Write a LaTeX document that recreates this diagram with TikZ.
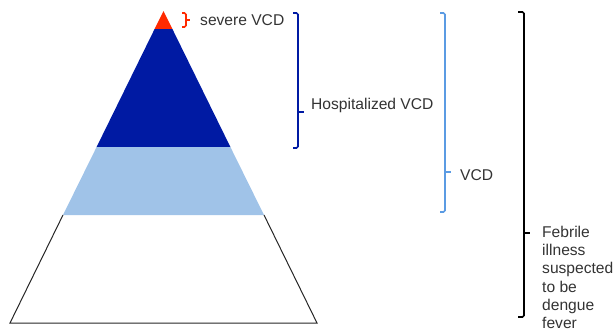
\documentclass[tikz,border=0pt]{standalone}
\usepackage{fontspec}
\setmainfont{Liberation Sans}
\definecolor{topred}{HTML}{FF2A00}
\definecolor{darkblue}{HTML}{001AA3}
\definecolor{lightblue}{HTML}{A0C3E8}
\definecolor{brlight}{HTML}{5B9BE3}
\definecolor{txt}{HTML}{333333}
\begin{document}
\begin{tikzpicture}[x=1pt,y=-1pt,
  lbl/.style={text=txt,font=\fontsize{15.6}{18.2}\selectfont,anchor=west,inner sep=0pt},
  brk/.style={line width=1.6pt,rounded corners=1.5pt}]
\useasboundingbox (0,0) rectangle (614,332);
% pyramid
\coordinate (apex) at (163.5,11);
\fill[topred] (apex) -- (172.4,29) -- (154.6,29) -- cycle;
\fill[darkblue] (154.6,29) -- (172.4,29) -- (230.4,147) -- (96.6,147) -- cycle;
\fill[lightblue] (96.6,147) -- (230.4,147) -- (264,215) -- (63,215) -- cycle;
\draw[line width=1pt,line join=miter,color=black!85] (63,215) -- (10,323) -- (317,323) -- (264,215);
% red bracket
\draw[brk,topred] (182,13) -- (186,13) -- (186,27) -- (182,27);
\draw[brk,topred] (186,20) -- (190,20);
\node[lbl] (sev) at (200,20) {severe VCD};
% dark blue bracket
\draw[brk,darkblue] (293,13) -- (298,13) -- (298,148) -- (293,148);
\draw[brk,darkblue] (298,112) -- (304,112);
\node[lbl] (hosp) at (311,105) {Hospitalized VCD};
% light blue bracket
\draw[brk,brlight] (440,13) -- (445,13) -- (445,212) -- (440,212);
\draw[brk,brlight] (445,172) -- (451,172);
\node[lbl] (vcd) at (460,175) {VCD};
% black bracket
\draw[brk,black] (518,12) -- (524,12) -- (524,317) -- (518,317);
\draw[brk,black] (524,233) -- (530,233);
\node[lbl,anchor=north west,align=left] (feb) at (542,226) {Febrile\\illness\\suspected\\to be\\dengue\\fever};
\end{tikzpicture}
\end{document}
